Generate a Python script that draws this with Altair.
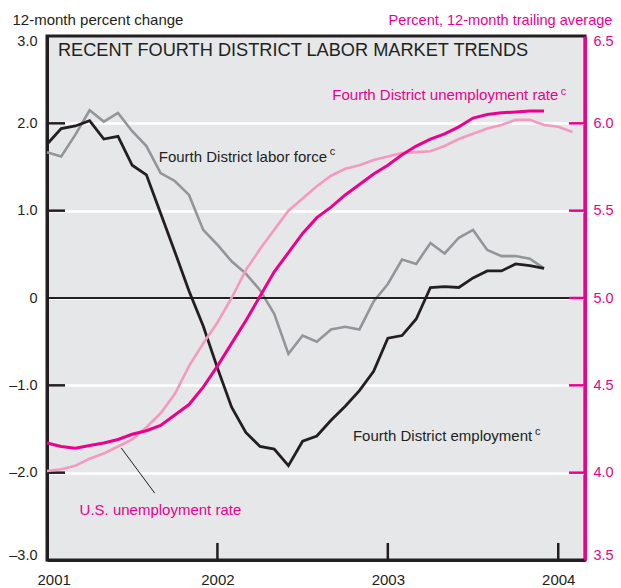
import altair as alt
import pandas as pd

# ---- data ----
employment = [1.76, 1.94, 1.97, 2.03, 1.82, 1.85, 1.52, 1.41, 0.97, 0.53, 0.08, -0.32,
              -0.80, -1.25, -1.54, -1.70, -1.73, -1.92, -1.64, -1.58, -1.40, -1.24, -1.06, -0.84,
              -0.46, -0.43, -0.24, 0.12, 0.13, 0.12, 0.23, 0.31, 0.31, 0.39, 0.37, 0.34]
labor_force = [1.67, 1.62, 1.87, 2.15, 2.02, 2.12, 1.91, 1.74, 1.43, 1.34, 1.18, 0.78,
               0.61, 0.42, 0.28, 0.09, -0.18, -0.64, -0.43, -0.50, -0.36, -0.33, -0.36, -0.04,
               0.16, 0.44, 0.39, 0.63, 0.51, 0.69, 0.78, 0.55, 0.48, 0.48, 0.45, 0.34]
fd_unemp = [4.17, 4.15, 4.14, 4.155, 4.17, 4.19, 4.22, 4.24, 4.27, 4.33, 4.39, 4.49,
            4.61, 4.74, 4.87, 5.01, 5.15, 5.26, 5.37, 5.46, 5.52, 5.59, 5.65, 5.71,
            5.76, 5.82, 5.87, 5.91, 5.94, 5.98, 6.03, 6.05, 6.06, 6.065, 6.07, 6.07]
us_unemp = [4.01, 4.02, 4.04, 4.08, 4.11, 4.15, 4.19, 4.26, 4.34, 4.45, 4.61, 4.74,
            4.86, 5.00, 5.16, 5.28, 5.39, 5.50, 5.57, 5.64, 5.70, 5.74, 5.76, 5.79,
            5.81, 5.83, 5.835, 5.84, 5.87, 5.91, 5.94, 5.97, 5.99, 6.02, 6.02, 5.99,
            5.98, 5.95]
start_year = 2001
x_ticks = [2001, 2002, 2003, 2004]
inner_x_ticks = [2002, 2003, 2004]
left_ticks = [-3, -2, -1, 0, 1, 2, 3]
inner_left_ticks = [-2, -1, 1, 2]
right_ticks = [3.5, 4.0, 4.5, 5.0, 5.5, 6.0, 6.5]
inner_right_ticks = [4.0, 4.5, 5.0, 5.5, 6.0]

DARK = "#231f20"
GRAY = "#939598"
MAG = "#ec008c"
PINK = "#f49ac1"
BG = "#e6e7e8"
FONT = "Liberation Sans, Arial, sans-serif"

W, H = 538, 524

fd = pd.DataFrame({
    "x": [start_year + i / 12 for i in range(len(employment))],
    "employment": employment,
    "labor_force": labor_force,
    "fd_unemp": fd_unemp,
})
us = pd.DataFrame({
    "x": [start_year + i / 12 for i in range(len(us_unemp))],
    "us_unemp": us_unemp,
})

xscale = alt.Scale(domain=[2001, 2004.157], nice=False, zero=False)
ylscale = alt.Scale(domain=[-3, 3], nice=False, zero=False)
yrscale = alt.Scale(domain=[3.5, 6.5], nice=False, zero=False)

x_axis = alt.Axis(values=x_ticks, format="d", ticks=False, grid=False,
                  labelFlush=True, labelFlushOffset=10,
                  domainColor=DARK, domainWidth=3, labelFont=FONT, labelFontSize=15,
                  labelColor=DARK, labelPadding=12, title=None)
yl_axis = alt.Axis(orient="left", values=left_ticks,
                   labelExpr="datum.value == 0 ? '0' : (datum.value < 0 ? '\u2013' + format(-datum.value, '.1f') : format(datum.value, '.1f'))",
                   labelFlush=True, labelFlushOffset=2, ticks=False, grid=True,
                   gridColor={"condition": {"test": "abs(datum.value) == 3", "value": "transparent"}, "value": "white"},
                   gridWidth=2.5, domainColor=DARK, domainWidth=3,
                   labelFont=FONT, labelFontSize=14.5, labelColor=DARK, labelPadding=10,
                   title="12-month percent change", titleAngle=0, titleAlign="left",
                   titleBaseline="alphabetic", titleX=-35, titleY=-12, titleFont=FONT,
                   titleFontSize=15, titleFontWeight="normal", titleColor=DARK)
yr_axis = alt.Axis(orient="right", values=right_ticks, format=".1f",
                   labelFlush=True, labelFlushOffset=2,
                   ticks=False, grid=False, domainColor=MAG, domainWidth=3,
                   labelFont=FONT, labelFontSize=14.5, labelColor=MAG, labelPadding=8,
                   title="Percent, 12-month trailing average", titleAngle=0, titleAlign="right",
                   titleBaseline="alphabetic", titleX=27, titleY=-12, titleFont=FONT,
                   titleFontSize=14.6, titleFontWeight="normal", titleColor=MAG)


def X(field):
    return alt.X(field, scale=xscale, axis=x_axis)


def YL(field):
    return alt.Y(field, scale=ylscale, axis=yl_axis)


def YR(field):
    return alt.Y(field, scale=yrscale, axis=yr_axis)


# ---- left-scale layer ----
lf_line = alt.Chart(fd).mark_line(color=GRAY, strokeWidth=2.6).encode(
    x=X("x:Q"), y=YL("labor_force:Q"))
emp_line = alt.Chart(fd).mark_line(color=DARK, strokeWidth=2.8).encode(
    x=X("x:Q"), y=YL("employment:Q"))
zero_rule = alt.Chart(fd).mark_rule(color=DARK, strokeWidth=2.2).encode(
    y=alt.datum(0, scale=ylscale, axis=yl_axis))
lt = pd.DataFrame({"v": inner_left_ticks})
left_tick_rules = alt.Chart(lt).mark_rule(color=DARK, strokeWidth=2.5).encode(
    y=YL("v:Q"), x=alt.value(0), x2=alt.value(18))
xt = pd.DataFrame({"t": inner_x_ticks})
x_tick_rules = alt.Chart(xt).mark_rule(color=DARK, strokeWidth=2.5).encode(
    x=X("t:Q"), y=alt.value(H - 17), y2=alt.value(H))


def label(x, y, text, color, size, align="left"):
    d = pd.DataFrame({"x": [x], "y": [y], "t": [text]})
    return alt.Chart(d).mark_text(align=align, baseline="alphabetic", font=FONT,
                                  fontSize=size, color=color).encode(
        x=X("x:Q"), y=YL("y:Q"), text="t:N")


texts = [
    label(2001.064, 2.770, "RECENT FOURTH DISTRICT LABOR MARKET TRENDS", DARK, 18.2),
    label(2002.644, 1.553, "Fourth District labor force", DARK, 15, align="right"),
    label(2002.659, 1.641, "c", DARK, 11),
    label(2004.000, 2.271, "Fourth District unemployment rate", MAG, 15, align="right"),
    label(2004.014, 2.329, "c", MAG, 11),
    label(2003.847, -1.643, "Fourth District employment", DARK, 15, align="right"),
    label(2003.863, -1.566, "c", DARK, 11),
    label(2001.191, -2.482, "U.S. unemployment rate", MAG, 15),
]
leader = pd.DataFrame({"x": [2001.436], "y": [-1.718], "x2": [2001.632], "y2": [-2.234]})
leader_rule = alt.Chart(leader).mark_rule(color=DARK, strokeWidth=1).encode(
    x=X("x:Q"), x2="x2:Q", y=YL("y:Q"), y2="y2:Q")

left_layer = alt.layer(lf_line, zero_rule, emp_line, left_tick_rules, x_tick_rules,
                       leader_rule, *texts)

# ---- right-scale layer ----
us_line = alt.Chart(us).mark_line(color=PINK, strokeWidth=2.6).encode(
    x=X("x:Q"), y=YR("us_unemp:Q"))
fd_line = alt.Chart(fd).mark_line(color=MAG, strokeWidth=3).encode(
    x=X("x:Q"), y=YR("fd_unemp:Q"))
rt = pd.DataFrame({"v": inner_right_ticks})
right_tick_rules = alt.Chart(rt).mark_rule(color=MAG, strokeWidth=2.5).encode(
    y=YR("v:Q"), x=alt.value(W - 16), x2=alt.value(W))
right_layer = alt.layer(us_line, fd_line, right_tick_rules)

chart = alt.layer(left_layer, right_layer).resolve_scale(y="independent").properties(
    width=W, height=H,
    padding={"left": 39, "top": 28, "right": 28, "bottom": 28},
    autosize=alt.AutoSizeParams(type="none"),
    background="white",
).configure_view(fill=BG, stroke=DARK, strokeWidth=3)

chart.save("out.html", embed_options={"renderer": "svg", "actions": False})
